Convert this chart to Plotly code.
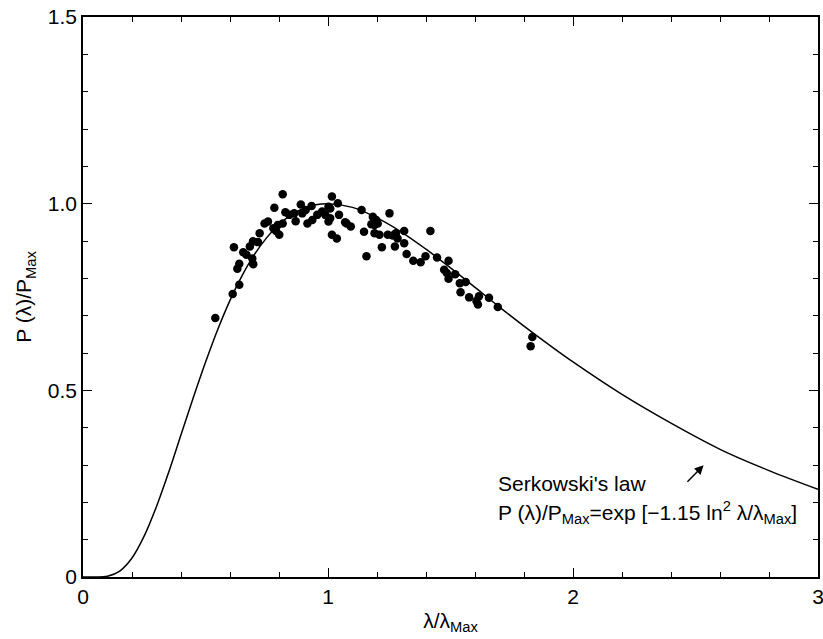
import plotly.graph_objects as go

obs_x = [0.540, 0.611, 0.638, 0.630, 0.638, 0.616, 0.654, 0.667, 0.691, 0.695,
         0.681, 0.694, 0.714, 0.721, 0.741, 0.755, 0.781, 0.815, 0.777, 0.788,
         0.801, 0.795, 0.815, 0.826, 0.842, 0.868, 0.862, 0.889, 0.895, 0.909,
         0.933, 0.916, 0.936, 0.956, 0.976, 0.989, 1.002, 1.009, 1.016, 1.040,
         1.045, 1.016, 1.036, 1.076, 1.093, 1.002, 1.009, 1.070, 1.137, 1.147,
         1.157, 1.183, 1.197, 1.177, 1.190, 1.203, 1.190, 1.210, 1.220, 1.251,
         1.244, 1.264, 1.277, 1.284, 1.273, 1.311, 1.311, 1.321, 1.348, 1.378,
         1.398, 1.418, 1.445, 1.474, 1.485, 1.492, 1.492, 1.519, 1.538, 1.562,
         1.541, 1.576, 1.616, 1.612, 1.606, 1.657, 1.693, 1.834, 1.827]
obs_y = [0.694, 0.758, 0.783, 0.826, 0.839, 0.883, 0.870, 0.863, 0.853, 0.838,
         0.885, 0.899, 0.897, 0.921, 0.947, 0.952, 0.989, 1.025, 0.934, 0.927,
         0.917, 0.943, 0.947, 0.977, 0.970, 0.953, 0.974, 0.998, 0.974, 0.983,
         0.994, 0.947, 0.956, 0.970, 0.979, 0.970, 0.952, 0.987, 1.019, 1.001,
         0.970, 0.917, 0.907, 0.947, 0.939, 0.992, 0.961, 0.950, 0.983, 0.925,
         0.859, 0.965, 0.956, 0.945, 0.943, 0.947, 0.921, 0.917, 0.883, 0.974,
         0.917, 0.915, 0.921, 0.907, 0.885, 0.927, 0.894, 0.865, 0.847, 0.843,
         0.859, 0.927, 0.856, 0.823, 0.814, 0.799, 0.847, 0.811, 0.787, 0.790,
         0.763, 0.749, 0.752, 0.730, 0.739, 0.748, 0.723, 0.643, 0.618]

# Serkowski curve
curve_x = [0.0, 0.05, 0.10, 0.15, 0.20, 0.25, 0.30, 0.35, 0.40, 0.45, 0.50,
           0.55, 0.60, 0.65, 0.70, 0.75, 0.80, 0.85, 0.90, 0.95, 1.00,
           1.10, 1.20, 1.30, 1.40, 1.50, 1.60, 1.70, 1.80, 1.90, 2.00,
           2.20, 2.40, 2.60, 2.80, 3.00]
curve_y = [0.0, 0.0, 0.002, 0.016, 0.051, 0.110, 0.189, 0.281, 0.381, 0.480, 0.575,
           0.663, 0.741, 0.808, 0.864, 0.909, 0.944, 0.970, 0.987, 0.997, 1.000,
           0.990, 0.962, 0.924, 0.878, 0.828, 0.776, 0.723, 0.672, 0.623, 0.576,
           0.489, 0.412, 0.342, 0.285, 0.235]

x_ticks = [0, 1, 2, 3]
x_labels = ["0", "1", "2", "3"]
y_ticks = [0, 0.5, 1.0, 1.5]
y_labels = ["0", "0.5", "1.0", "1.5"]

FONT = "Liberation Sans, Arial, sans-serif"
FS = 21

fig = go.Figure()
fig.add_trace(go.Scatter(x=curve_x, y=curve_y, mode="lines",
                         line=dict(color="black", width=1.5, shape="spline"),
                         hoverinfo="skip"))
fig.add_trace(go.Scatter(x=obs_x, y=obs_y, mode="markers",
                         marker=dict(color="black", size=8.5, line=dict(width=0))))

axis_common = dict(showgrid=False, zeroline=False, showline=True, linecolor="black",
                   linewidth=1.5, mirror="allticks", ticks="inside", tickcolor="black",
                   ticklen=9, tickwidth=1.3, ticklabeloverflow="allow",
                   tickfont=dict(family=FONT, size=FS, color="black"))

fig.update_xaxes(range=[0, 3], tickvals=x_ticks, ticktext=x_labels,
                 minor=dict(dtick=0.2, tick0=0, ticks="inside", ticklen=5, tickcolor="black", tickwidth=1.2),
                 title=dict(text="λ/λ<sub>Max</sub>", font=dict(family=FONT, size=FS, color="black"), standoff=6),
                 **axis_common)
fig.update_yaxes(range=[0, 1.5], tickvals=y_ticks, ticktext=y_labels,
                 minor=dict(dtick=0.1, tick0=0, ticks="inside", ticklen=5, tickcolor="black", tickwidth=1.2),
                 title=dict(text="P (λ)/P<sub>Max</sub>", font=dict(family=FONT, size=FS, color="black"), standoff=10),
                 **axis_common)

fig.add_annotation(x=1.684, y=0.251, xref="x", yref="y", text="Serkowski's law",
                   showarrow=False, xanchor="left", yanchor="middle",
                   font=dict(family=FONT, size=FS, color="black"))
fig.add_annotation(x=1.684, y=0.172, xref="x", yref="y",
                   text="P (λ)/P<sub>Max</sub>=exp [−1.15 ln<sup>2</sup> λ/λ<sub>Max</sub>]",
                   showarrow=False, xanchor="left", yanchor="middle",
                   font=dict(family=FONT, size=FS, color="black"))
fig.add_annotation(x=2.533, y=0.299, ax=2.461, ay=0.251, xref="x", yref="y",
                   axref="x", ayref="y", text="", showarrow=True,
                   arrowhead=2, arrowsize=1.2, arrowwidth=1.5, arrowcolor="black")

fig.update_layout(width=823, height=639, showlegend=False,
                  plot_bgcolor="white", paper_bgcolor="white",
                  margin=dict(l=83, r=5, t=17, b=62, autoexpand=False),
                  font=dict(family=FONT, color="black"))

fig.write_html("out.html", config={"displayModeBar": False},
               post_script="document.body.style.margin='0';document.body.style.overflow='hidden';")
